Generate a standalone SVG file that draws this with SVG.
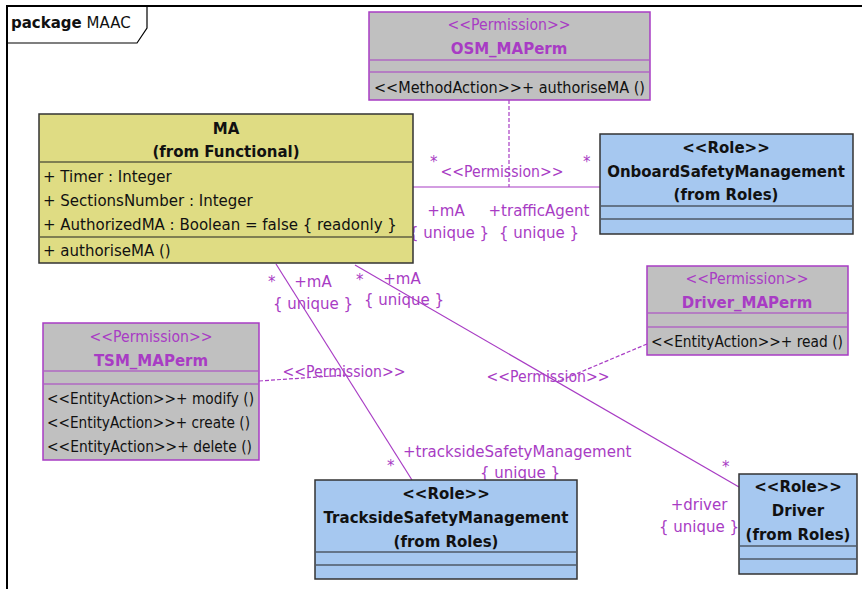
<svg xmlns="http://www.w3.org/2000/svg" width="862" height="589" viewBox="0 0 862 589">
<style>
text{font-family:"DejaVu Sans","Liberation Sans",sans-serif;font-size:15px;}
.blk{fill:#111;}
.pur{fill:#a83cc4;}
.b{font-weight:bold;}
.m{text-anchor:middle;}
.perm{fill:#c0c0c0;stroke:#a83cc4;stroke-width:1.5;}
.pl{stroke:#a83cc4;stroke-width:1.2;}
.ma{fill:#dfdc83;stroke:#333;stroke-width:1.5;}
.role{fill:#a6c8f0;stroke:#333;stroke-width:1.5;}
.dl{stroke:#222;stroke-width:1.2;}
.conn{stroke:#a83cc4;stroke-width:1.2;fill:none;}
.dash{stroke-dasharray:4,2;}
</style>
<rect x="0" y="0" width="862" height="589" fill="#fff"/>
<g id="package">
<path d="M7,589 V6 H862" fill="none" stroke="#000" stroke-width="2"/>
<path d="M7,43 H137 L147,28 V6" fill="none" stroke="#000" stroke-width="1.2"/>
<text x="11" y="28" class="blk"><tspan class="b">package</tspan> MAAC</text>
</g>
<g id="connectors">
<line class="conn" x1="413" y1="187" x2="600" y2="187"/>
<line class="conn dash" x1="509" y1="100" x2="509" y2="187"/>
<line class="conn" x1="276" y1="264" x2="412" y2="480"/>
<line class="conn" x1="355" y1="265" x2="739" y2="487"/>
<line class="conn dash" x1="259" y1="381" x2="347" y2="375"/>
<line class="conn dash" x1="647" y1="344" x2="557" y2="382"/>
<text x="430" y="167" class="pur">*</text>
<text x="583" y="167" class="pur">*</text>
<text x="502" y="177" class="pur m" textLength="123" lengthAdjust="spacingAndGlyphs">&lt;&lt;Permission&gt;&gt;</text>
<text x="446" y="216" class="pur m">+mA</text>
<text x="449" y="238" class="pur m">{ unique }</text>
<text x="539" y="216" class="pur m">+trafficAgent</text>
<text x="539" y="238" class="pur m">{ unique }</text>
<text x="268" y="287" class="pur">*</text>
<text x="313" y="287" class="pur m">+mA</text>
<text x="313" y="309" class="pur m">{ unique }</text>
<text x="356" y="285" class="pur">*</text>
<text x="402" y="284" class="pur m">+mA</text>
<text x="404" y="305" class="pur m">{ unique }</text>
<text x="344" y="377" class="pur m" textLength="123" lengthAdjust="spacingAndGlyphs">&lt;&lt;Permission&gt;&gt;</text>
<text x="548" y="382" class="pur m" textLength="123" lengthAdjust="spacingAndGlyphs">&lt;&lt;Permission&gt;&gt;</text>
<text x="387" y="471" class="pur">*</text>
<text x="403" y="457" class="pur">+tracksideSafetyManagement</text>
<text x="520" y="478" class="pur m">{ unique }</text>
<text x="722" y="472" class="pur">*</text>
<text x="699" y="510" class="pur m">+driver</text>
<text x="699" y="532" class="pur m">{ unique }</text>
</g>
<g id="OSM_MAPerm">
<rect class="perm" x="369" y="12" width="281" height="88"/>
<line class="pl" x1="370" y1="60" x2="649" y2="60"/>
<line class="pl" x1="370" y1="72" x2="649" y2="72"/>
<text x="509" y="30" class="pur m" textLength="123" lengthAdjust="spacingAndGlyphs">&lt;&lt;Permission&gt;&gt;</text>
<text x="509" y="54" class="pur m b">OSM_MAPerm</text>
<text x="374" y="93" class="blk" textLength="271" lengthAdjust="spacingAndGlyphs">&lt;&lt;MethodAction&gt;&gt;+ authoriseMA ()</text>
</g>
<g id="MA">
<rect class="ma" x="39" y="114" width="374" height="149"/>
<line class="dl" x1="40" y1="162" x2="412" y2="162"/>
<line class="dl" x1="40" y1="237" x2="412" y2="237"/>
<text x="226" y="134" class="blk m b">MA</text>
<text x="226" y="157" class="blk m b">(from Functional)</text>
<text x="43" y="182" class="blk">+ Timer : Integer</text>
<text x="43" y="206" class="blk">+ SectionsNumber : Integer</text>
<text x="43" y="230" class="blk">+ AuthorizedMA : Boolean = false { readonly }</text>
<text x="43" y="256" class="blk">+ authoriseMA ()</text>
</g>
<g id="OnboardSafetyManagement">
<rect class="role" x="600" y="134" width="253" height="100"/>
<line class="dl" x1="601" y1="206" x2="852" y2="206"/>
<line class="dl" x1="601" y1="219" x2="852" y2="219"/>
<text x="726" y="153" class="blk m b">&lt;&lt;Role&gt;&gt;</text>
<text x="726" y="177" class="blk m b">OnboardSafetyManagement</text>
<text x="726" y="200" class="blk m b">(from Roles)</text>
</g>
<g id="Driver_MAPerm">
<rect class="perm" x="647" y="266" width="201" height="89"/>
<line class="pl" x1="648" y1="313" x2="847" y2="313"/>
<line class="pl" x1="648" y1="327" x2="847" y2="327"/>
<text x="747" y="284" class="pur m" textLength="123" lengthAdjust="spacingAndGlyphs">&lt;&lt;Permission&gt;&gt;</text>
<text x="747" y="308" class="pur m b">Driver_MAPerm</text>
<text x="651" y="347" class="blk" textLength="192" lengthAdjust="spacingAndGlyphs">&lt;&lt;EntityAction&gt;&gt;+ read ()</text>
</g>
<g id="TSM_MAPerm">
<rect class="perm" x="43" y="323" width="216" height="137"/>
<line class="pl" x1="44" y1="371" x2="258" y2="371"/>
<line class="pl" x1="44" y1="384" x2="258" y2="384"/>
<text x="151" y="342" class="pur m" textLength="123" lengthAdjust="spacingAndGlyphs">&lt;&lt;Permission&gt;&gt;</text>
<text x="151" y="366" class="pur m b">TSM_MAPerm</text>
<text x="47" y="404" class="blk" textLength="207" lengthAdjust="spacingAndGlyphs">&lt;&lt;EntityAction&gt;&gt;+ modify ()</text>
<text x="47" y="428" class="blk" textLength="203" lengthAdjust="spacingAndGlyphs">&lt;&lt;EntityAction&gt;&gt;+ create ()</text>
<text x="47" y="452" class="blk" textLength="205" lengthAdjust="spacingAndGlyphs">&lt;&lt;EntityAction&gt;&gt;+ delete ()</text>
</g>
<g id="TracksideSafetyManagement">
<rect class="role" x="315" y="480" width="262" height="99"/>
<line class="dl" x1="316" y1="552" x2="576" y2="552"/>
<line class="dl" x1="316" y1="565" x2="576" y2="565"/>
<text x="446" y="499" class="blk m b">&lt;&lt;Role&gt;&gt;</text>
<text x="446" y="523" class="blk m b">TracksideSafetyManagement</text>
<text x="446" y="547" class="blk m b">(from Roles)</text>
</g>
<g id="Driver">
<rect class="role" x="739" y="474" width="118" height="100"/>
<line class="dl" x1="740" y1="546" x2="856" y2="546"/>
<line class="dl" x1="740" y1="559" x2="856" y2="559"/>
<text x="798" y="492" class="blk m b">&lt;&lt;Role&gt;&gt;</text>
<text x="798" y="516" class="blk m b">Driver</text>
<text x="798" y="540" class="blk m b">(from Roles)</text>
</g>
</svg>
